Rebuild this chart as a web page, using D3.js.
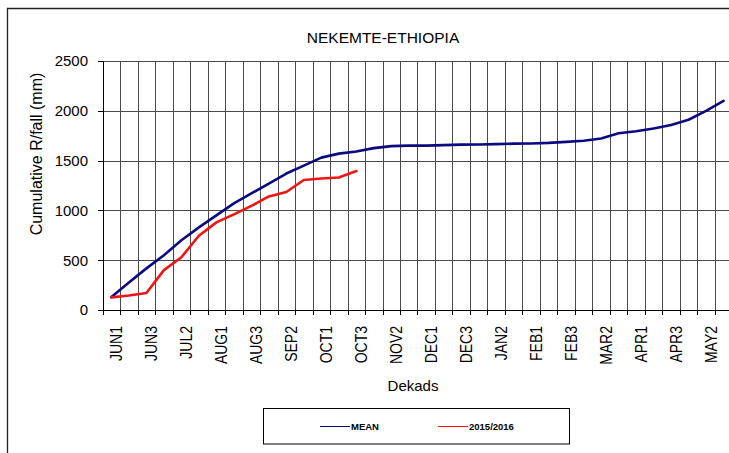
<!DOCTYPE html>
<html>
<head>
    <meta charset="utf-8">
    <title>NEKEMTE-ETHIOPIA cumulative rainfall</title>
    <style>
        body { margin: 0; background: #fff; }
        text { font-family: "Liberation Sans", Arial, sans-serif; fill: #000; }
        .grid line { stroke: #4a4a4a; stroke-width: 1px; shape-rendering: crispEdges; }
        .axis line, .axis path { stroke: #000; shape-rendering: crispEdges; }
        .series { fill: none; stroke-width: 2.6px; stroke-linejoin: round; stroke-linecap: round; }
    </style>
</head>
<body>
    <svg width="729" height="453"></svg>

    <script src="https://d3js.org/d3.v7.min.js"></script>
    <script>
        // dekads, June to May
        const dekads = [
            "JUN1", "JUN2", "JUN3", "JUL1", "JUL2", "JUL3", "AUG1", "AUG2", "AUG3",
            "SEP1", "SEP2", "SEP3", "OCT1", "OCT2", "OCT3", "NOV1", "NOV2", "NOV3",
            "DEC1", "DEC2", "DEC3", "JAN1", "JAN2", "JAN3", "FEB1", "FEB2", "FEB3",
            "MAR1", "MAR2", "MAR3", "APR1", "APR2", "APR3", "MAY1", "MAY2", "MAY3"
        ];
        // long term mean cumulative rainfall (mm)
        const meanValues = [
            130, 275, 418, 550, 700, 830, 950, 1070, 1170,
            1270, 1370, 1450, 1530, 1570, 1592, 1625, 1645, 1650,
            1650, 1655, 1660, 1662, 1665, 1670, 1672, 1678, 1688,
            1700, 1722, 1775, 1795, 1822, 1858, 1910, 2000, 2100
        ];
        // 2015/2016 season so far
        const seasonValues = [
            127, 145, 170, 400, 530, 745, 880, 960, 1045,
            1140, 1185, 1305, 1320, 1330, 1395
        ];
        const yTicks = [0, 500, 1000, 1500, 2000, 2500];
        const labelEvery = 2;

        const svg = d3.select("svg");

        const plotL = 102.7, plotR = 732.3, plotT = 61, plotB = 310;

        const x = d3.scaleBand().domain(dekads).range([plotL, plotR]).padding(0);
        const y = d3.scaleLinear().domain([0, 2500]).range([plotB, plotT]);
        const cx = d => x(d) + x.bandwidth() / 2;

        // chart frame (only left and top edges are in view)
        svg.append("path")
            .attr("d", "M7.5,453V8.5H729")
            .attr("fill", "none")
            .attr("stroke", "#222")
            .attr("stroke-width", 1.3);

        // title
        svg.append("text")
            .attr("x", 383)
            .attr("y", 43)
            .attr("text-anchor", "middle")
            .attr("font-size", 15.5)
            .text("NEKEMTE-ETHIOPIA");

        // gridlines
        const grid = svg.append("g").attr("class", "grid");
        grid.selectAll(".h")
            .data(yTicks.slice(1))
            .enter().append("line")
            .attr("x1", plotL).attr("x2", plotR)
            .attr("y1", d => Math.round(y(d)) + 0.5)
            .attr("y2", d => Math.round(y(d)) + 0.5);
        grid.selectAll(".v")
            .data(dekads.slice(1))
            .enter().append("line")
            .attr("x1", d => Math.round(x(d)) + 0.5)
            .attr("x2", d => Math.round(x(d)) + 0.5)
            .attr("y1", plotT).attr("y2", plotB);

        // y axis
        const yAxis = svg.append("g").attr("class", "axis");
        yAxis.append("line")
            .attr("x1", Math.round(plotL) + 0.5).attr("x2", Math.round(plotL) + 0.5)
            .attr("y1", plotT).attr("y2", plotB);
        yAxis.selectAll(".tick")
            .data(yTicks)
            .enter().append("line")
            .attr("x1", Math.round(plotL) - 5).attr("x2", Math.round(plotL))
            .attr("y1", d => Math.round(y(d)) + 0.5)
            .attr("y2", d => Math.round(y(d)) + 0.5);
        yAxis.selectAll("text")
            .data(yTicks)
            .enter().append("text")
            .attr("x", 88)
            .attr("y", d => y(d))
            .attr("dy", "0.36em")
            .attr("text-anchor", "end")
            .attr("font-size", 15)
            .text(d => d);

        // x axis
        const xAxis = svg.append("g").attr("class", "axis");
        xAxis.append("line")
            .attr("x1", plotL).attr("x2", plotR)
            .attr("y1", plotB + 0.5).attr("y2", plotB + 0.5);
        xAxis.selectAll(".tick")
            .data(dekads)
            .enter().append("line")
            .attr("x1", d => Math.round(x(d)) + 0.5)
            .attr("x2", d => Math.round(x(d)) + 0.5)
            .attr("y1", plotB).attr("y2", plotB + 5);
        xAxis.selectAll("text")
            .data(dekads.filter((d, i) => i % labelEvery === 0))
            .enter().append("text")
            .attr("transform", d => "translate(" + (cx(d) + 10.5) + "," + 326 + ") scale(1.2,1) rotate(-90)")
            .attr("text-anchor", "end")
            .attr("font-size", 14)
            .text(d => d);

        // axis titles
        svg.append("text")
            .attr("x", 413)
            .attr("y", 391)
            .attr("text-anchor", "middle")
            .attr("font-size", 15)
            .text("Dekads");
        svg.append("text")
            .attr("transform", "translate(42,154) rotate(-90)")
            .attr("text-anchor", "middle")
            .attr("font-size", 16)
            .text("Cumulative R/fall (mm)");

        // series
        const line = d3.line()
            .x(d => cx(d.dekad))
            .y(d => y(d.value));

        const meanData = meanValues.map((v, i) => ({ dekad: dekads[i], value: v }));
        const seasonData = seasonValues.map((v, i) => ({ dekad: dekads[i], value: v }));

        svg.append("path")
            .datum(meanData)
            .attr("class", "series")
            .attr("stroke", "#0a0a80")
            .attr("d", line);

        svg.append("path")
            .datum(seasonData)
            .attr("class", "series")
            .attr("stroke", "#f01414")
            .attr("d", line);

        // legend
        const legend = svg.append("g");
        legend.append("rect")
            .attr("x", 263.5).attr("y", 408.5)
            .attr("width", 306).attr("height", 35.5)
            .attr("fill", "#fff")
            .attr("stroke", "#000")
            .attr("stroke-width", 1);
        const legendItems = [
            { name: "MEAN", color: "#0a0a80", x: 320 },
            { name: "2015/2016", color: "#f01414", x: 438 }
        ];
        legendItems.forEach(it => {
            legend.append("line")
                .attr("x1", it.x).attr("x2", it.x + 30)
                .attr("y1", 426.5).attr("y2", 426.5)
                .attr("stroke", it.color)
                .attr("stroke-width", 1);
            legend.append("text")
                .attr("x", it.x + 31)
                .attr("y", 430)
                .attr("font-size", 9.5)
                .attr("font-weight", "bold")
                .text(it.name);
        });
    </script>
</body>
</html>
